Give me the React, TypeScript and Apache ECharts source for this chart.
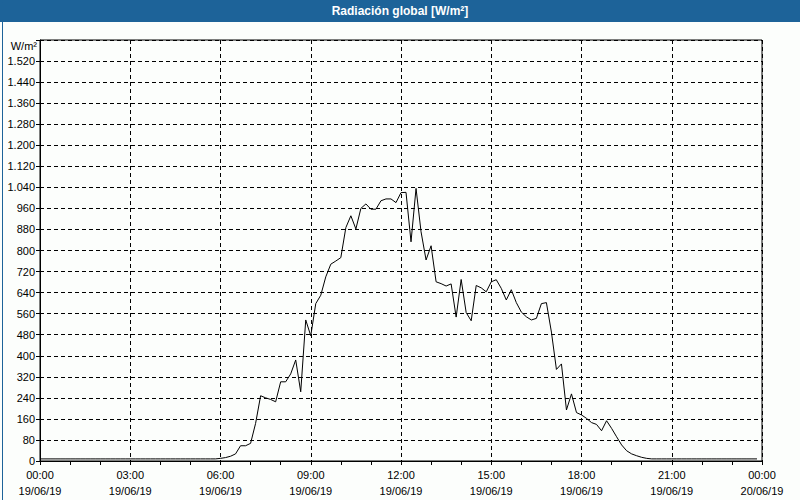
import React, { useEffect, useRef } from "react";
import * as echarts from "echarts";

const TITLE = "Radiación global [W/m²]";
const Y_UNIT = "W/m²";
const DATE_DAY = "19/06/19";
const DATE_NEXT = "20/06/19";
const STEP_MINUTES = 10;

// 00:00 – 05:50 (night)
const nightMorning = [
  8, 8, 8, 8, 8, 8, 8, 8, 8, 8, 8, 8,
  8, 8, 8, 8, 8, 8, 8, 8, 8, 8, 8, 8,
  8, 8, 8, 8, 8, 8, 8, 8, 8, 8, 8, 8,
];
// 06:00 – 20:10
const daylight = [
  10, 13, 18, 27, 58, 58, 67, 143, 248, 240,
  234, 225, 301, 301, 331, 384, 263, 536, 476, 598,
  630, 700, 748, 760, 773, 887, 932, 882, 960, 977,
  957, 957, 989, 996, 996, 982, 1020, 1021, 833, 1036,
  871, 764, 818, 681, 674, 665, 673, 547, 690, 564,
  533, 667, 658, 643, 681, 689, 656, 612, 651, 602,
  566, 548, 536, 542, 598, 602, 490, 348, 369, 194,
  255, 184, 175, 162, 146, 139, 115, 153, 124, 92,
  61, 39, 27, 20, 14, 10,
];
// 20:20 – 23:50 (night)
const nightEvening = [
  8, 8, 8, 8, 8, 8, 8, 8, 8, 8, 8,
  8, 8, 8, 8, 8, 8, 8, 8, 8, 8, 8,
];

const radiation = [...nightMorning, ...daylight, ...nightEvening];

const pad = (n: number) => (n < 10 ? "0" + n : "" + n);
const fmtThousands = (v: number) =>
  String(v).replace(/\B(?=(\d{3})+(?!\d))/g, ".");

export default function App() {
  const ref = useRef<HTMLDivElement>(null);
  useEffect(() => {
    if (!ref.current) return;
    const chart = echarts.init(ref.current, null, { renderer: "svg" });
    const seriesData = radiation.map((v, i) => [i * STEP_MINUTES, v]);
    const font = "'Liberation Sans', Arial, sans-serif";
    chart.setOption({
      animation: false,
      backgroundColor: "#fcfefc",
      textStyle: { fontFamily: font },
      grid: {
        left: 40,
        right: 38,
        top: 40,
        bottom: 39,
        show: true,
        borderColor: "#000",
        borderWidth: 1,
        backgroundColor: "transparent",
      },
      graphic: [
        {
          type: "rect",
          left: 0,
          top: 0,
          shape: { width: 800, height: 22 },
          style: { fill: "#1d6399" },
          z: 0,
        },
        {
          type: "rect",
          left: 0,
          top: 0,
          shape: { x: 0.5, y: 0.5, width: 799, height: 499 },
          style: { fill: "none", stroke: "#1d6399", lineWidth: 1 },
          z: 0,
        },
        {
          type: "text",
          x: 400,
          y: 11,
          style: {
            text: TITLE,
            fill: "#fff",
            font: "bold 12px " + font,
            align: "center",
            verticalAlign: "middle",
          },
          z: 5,
        },
        {
          type: "text",
          x: 37,
          y: 46,
          style: {
            text: Y_UNIT,
            fill: "#000",
            font: "11px " + font,
            align: "right",
            verticalAlign: "middle",
          },
          z: 5,
        },
      ],
      xAxis: {
        type: "value",
        min: 0,
        max: 1440,
        interval: 180,
        axisLine: { show: true, lineStyle: { color: "#000", width: 1 } },
        axisTick: { show: true, length: 4, lineStyle: { color: "#000" } },
        minorTick: { show: true, splitNumber: 3, length: 4, lineStyle: { color: "#000" } },
        splitLine: {
          show: true,
          lineStyle: { color: "#000", type: [4, 3], width: 1 },
        },
        axisLabel: {
          color: "#000",
          fontSize: 11,
          lineHeight: 16,
          margin: 6,
          showMaxLabel: true,
          showMinLabel: true,
          formatter: (v: number) => {
            const h = Math.floor(v / 60) % 24;
            const m = v % 60;
            const d = v >= 1440 ? DATE_NEXT : DATE_DAY;
            return pad(h) + ":" + pad(m) + "\n" + d;
          },
        },
      },
      yAxis: {
        type: "value",
        min: 0,
        max: 1600,
        interval: 80,
        axisLine: { show: true, lineStyle: { color: "#000", width: 1 } },
        axisTick: { show: true, length: 4, lineStyle: { color: "#000" } },
        splitLine: {
          show: true,
          lineStyle: { color: "#000", type: [4, 3], width: 1 },
        },
        axisLabel: {
          color: "#000",
          fontSize: 11,
          margin: 5,
          formatter: (v: number) => (v >= 1600 ? "" : fmtThousands(v)),
        },
      },
      series: [
        {
          type: "line",
          data: seriesData,
          showSymbol: false,
          symbol: "none",
          lineStyle: { color: "#000", width: 1 },
          z: 3,
        },
      ],
    });
    return () => chart.dispose();
  }, []);
  return (
    <div
      ref={ref}
      style={{ position: "fixed", left: 0, top: 0, width: 800, height: 500 }}
    />
  );
}
